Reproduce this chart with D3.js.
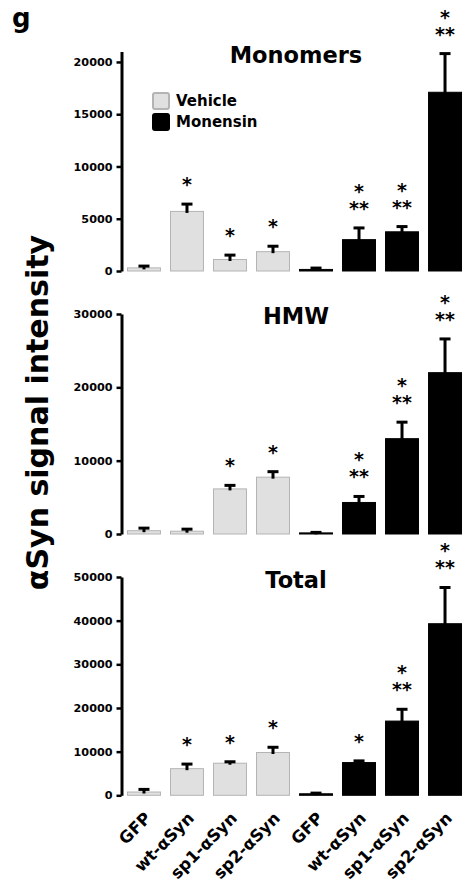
<!DOCTYPE html>
<html lang="en">
<head>
    <meta charset="UTF-8">
    <script src="https://d3js.org/d3.v7.min.js"></script>
    <style>
        body {margin: 0; background-color: #ffffff}
        svg {display: block}
        text {font-family: "DejaVu Sans", sans-serif; font-weight: bold; fill: #000}
    </style>
</head>
<body>
<svg class="chart"></svg>
<script type="text/javascript">
    // bar labels and treatment groups
    const categories = ["GFP", "wt-αSyn", "sp1-αSyn", "sp2-αSyn", "GFP", "wt-αSyn", "sp1-αSyn", "sp2-αSyn"];
    const treatments = ["Vehicle", "Vehicle", "Vehicle", "Vehicle", "Monensin", "Monensin", "Monensin", "Monensin"];

    // Monomers panel
    const monomersMean = [300, 5700, 1100, 1850, 150, 3000, 3750, 17100];
    const monomersErr = [170, 700, 420, 520, 130, 1120, 500, 3700];
    const monomersStars = ["", "*", "*", "*", "", "*|**", "*|**", "*|**"];
    const monomersTicks = [0, 5000, 10000, 15000, 20000];

    // HMW panel
    const hmwMean = [450, 380, 6150, 7750, 150, 4300, 13000, 22000];
    const hmwErr = [350, 280, 480, 750, 70, 820, 2250, 4600];
    const hmwStars = ["", "", "*", "*", "", "*|**", "*|**", "*|**"];
    const hmwTicks = [0, 10000, 20000, 30000];

    // Total panel
    const totalMean = [750, 6100, 7350, 9800, 350, 7500, 17000, 39300];
    const totalErr = [600, 1050, 330, 1200, 150, 380, 2700, 8300];
    const totalStars = ["", "*", "*", "*", "", "*", "*|**", "*|**"];
    const totalTicks = [0, 10000, 20000, 30000, 40000, 50000];

    const legendItems = ["Vehicle", "Monensin"];

    let width = 465;
    let height = 885;
    let axis_x = 121.5;

    let svg = d3.select(".chart").attr("width", width).attr("height", height);

    let color = d3.scaleOrdinal().domain(legendItems).range(["#e0e0e0", "#000000"]);
    let edge = d3.scaleOrdinal().domain(legendItems).range(["#b4b4b4", "#000000"]);

    var x = d3.scaleBand()
        .domain(d3.range(categories.length))
        .range([122, 467])
        .paddingInner(0.21)
        .paddingOuter(0.116);

    let panels = [
        {title: "Monomers", mean: monomersMean, err: monomersErr, stars: monomersStars, ticks: monomersTicks,
            max: 21000, top: 51.5, bottom: 271, title_y: 63},
        {title: "HMW", mean: hmwMean, err: hmwErr, stars: hmwStars, ticks: hmwTicks,
            max: 30000, top: 314, bottom: 534, title_y: 324},
        {title: "Total", mean: totalMean, err: totalErr, stars: totalStars, ticks: totalTicks,
            max: 50000, top: 577, bottom: 795.3, title_y: 588}
    ];

    panels.forEach(function (p, pi) {
        var y = d3.scaleLinear().domain([0, p.max]).range([p.bottom, p.top]);
        var g = svg.append("g");

        // bars
        g.selectAll(".bar")
            .data(p.mean)
            .enter()
            .append("rect")
            .attr("x", (d, i) => x(i) + 0.5)
            .attr("width", x.bandwidth() - 1)
            .attr("y", d => y(d))
            .attr("height", d => y(0) - y(d))
            .attr("fill", (d, i) => color(treatments[i]))
            .attr("stroke", (d, i) => edge(treatments[i]))
            .attr("stroke-width", 1);

        // error bars (upper only)
        let cx = i => x(i) + x.bandwidth() / 2;
        g.selectAll(".stem")
            .data(p.mean)
            .enter()
            .append("line")
            .attr("x1", (d, i) => cx(i))
            .attr("x2", (d, i) => cx(i))
            .attr("y1", d => y(d) + 1.5)
            .attr("y2", (d, i) => y(d + p.err[i]))
            .attr("stroke", "#000")
            .attr("stroke-width", 3);
        g.selectAll(".cap")
            .data(p.mean)
            .enter()
            .append("line")
            .attr("x1", (d, i) => cx(i) - 5.5)
            .attr("x2", (d, i) => cx(i) + 5.5)
            .attr("y1", (d, i) => y(d + p.err[i]))
            .attr("y2", (d, i) => y(d + p.err[i]))
            .attr("stroke", "#000")
            .attr("stroke-width", 3);

        // significance stars, one text per bar
        p.stars.forEach(function (s, i) {
            if (!s) return;
            let lines = s.split("|");
            let base = y(p.mean[i] + p.err[i]) - 13 - (lines.length - 1) * 17;
            let t = g.append("text")
                .attr("text-anchor", "middle")
                .style("font-size", "19px");
            lines.forEach(function (line, k) {
                t.append("tspan")
                    .attr("x", cx(i))
                    .attr("y", base + k * 17)
                    .text(line);
            });
        });

        // axis
        let axis = g.append("g")
            .attr("transform", "translate(" + axis_x + ",0)")
            .call(d3.axisLeft(y)
                .tickValues(p.ticks)
                .tickSize(5)
                .tickSizeOuter(0)
                .tickPadding(4)
                .tickFormat(d3.format("d")));
        axis.attr("font-family", null).attr("font-size", null);
        axis.select(".domain").attr("stroke-width", 3);
        axis.selectAll(".tick line").attr("stroke-width", 2.5);
        axis.selectAll(".tick text").style("font-size", "11.2px");

        g.append("text")
            .attr("x", 296)
            .attr("y", p.title_y)
            .attr("text-anchor", "middle")
            .style("font-size", "22.5px")
            .text(p.title);

        if (pi === panels.length - 1) {
            g.selectAll(".xlabel")
                .data(categories)
                .enter()
                .append("text")
                .attr("transform", (d, i) => "translate(" + (cx(i) + 8) + "," + (p.bottom + 24) + ") rotate(-45)")
                .attr("text-anchor", "end")
                .style("font-size", "16.5px")
                .text(d => d);
        }
    });

    // legend
    let legend = svg.append("g");
    legendItems.forEach(function (name, i) {
        legend.append("rect")
            .attr("x", 153)
            .attr("y", 93 + i * 21)
            .attr("width", 16)
            .attr("height", 16)
            .attr("rx", 2)
            .attr("fill", color(name))
            .attr("stroke", name === "Vehicle" ? "#b4b4b4" : "#000")
            .attr("stroke-width", 2);
        legend.append("text")
            .attr("x", 176)
            .attr("y", 106 + i * 21)
            .style("font-size", "15px")
            .text(name);
    });

    // y title and panel letter
    svg.append("text")
        .attr("transform", "translate(48,412.5) rotate(-90)")
        .attr("text-anchor", "middle")
        .style("font-size", "30px")
        .text("αSyn signal intensity");

    svg.append("text")
        .attr("x", 12)
        .attr("y", 27)
        .style("font-size", "26px")
        .text("g");
</script>
</body>
</html>
